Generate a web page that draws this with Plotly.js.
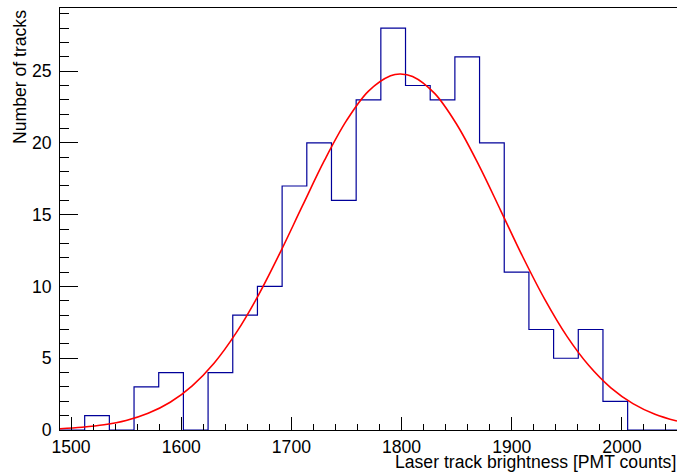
<!DOCTYPE html>
<html>
<head>
<meta charset="utf-8">
<script src="https://cdn.plot.ly/plotly-3.0.1.min.js"></script>
<style>
html,body{margin:0;padding:0;background:#fff;}
#chart{width:677px;height:474px;}
</style>
</head>
<body>
<div id="chart"></div>
<script>
// Histogram bin edges (lower edges + final upper edge)
const binEdges = [1490, 1512.4, 1534.8, 1557.2, 1579.6, 1602, 1624.4, 1646.8, 1669.2, 1691.6,
  1714, 1736.4, 1758.8, 1781.2, 1803.6, 1826, 1848.4, 1870.8, 1893.2, 1915.6,
  1938, 1960.4, 1982.8, 2005.2, 2027.6, 2050];
// Counts per bin
const binCounts = [0, 1, 0, 3, 4, 0, 4, 8, 10, 17, 20, 16, 23, 28, 24, 23, 26, 20, 11, 7, 5, 7, 2, 0, 0];

// Fit curve points
const fitX = [1490, 1510, 1530, 1550, 1570, 1590, 1610, 1630, 1650, 1670, 1690, 1710, 1730, 1750,
  1770, 1790, 1799, 1810, 1830, 1850, 1870, 1890, 1910, 1930, 1950, 1970, 1990, 2010, 2030, 2050];
const fitY = [0.09, 0.19, 0.36, 0.66, 1.16, 1.93, 3.08, 4.67, 6.78, 9.38, 12.39, 15.61, 18.78, 21.55,
  23.61, 24.68, 24.8, 24.63, 23.45, 21.30, 18.47, 15.29, 12.07, 9.10, 6.54, 4.49, 2.94, 1.84, 1.10, 0.62];

const xTitle = "Laser track brightness [PMT counts]";
const yTitle = "Number of tracks";

const stepY = binCounts.concat([binCounts[binCounts.length - 1]]);

const FONT = "Liberation Sans, Arial, Helvetica, sans-serif";
const FS = 17.6;

const traces = [
  {
    type: "scatter", mode: "lines",
    x: binEdges, y: stepY,
    line: {shape: "hv", color: "#000099", width: 1.2},
    hoverinfo: "skip", showlegend: false
  },
  {
    type: "scatter", mode: "lines",
    x: fitX, y: fitY,
    line: {shape: "spline", color: "#ff0000", width: 1.6, smoothing: 1},
    hoverinfo: "skip", showlegend: false
  }
];

const layout = {
  width: 677, height: 474,
  margin: {l: 60, r: 0, t: 8, b: 44, pad: 0},
  paper_bgcolor: "#ffffff", plot_bgcolor: "#ffffff",
  font: {family: FONT, size: FS, color: "#000000"},
  showlegend: false,
  xaxis: {
    range: [1490, 2050], tick0: 1500, dtick: 100,
    ticks: "inside", ticklen: 13, tickwidth: 1, tickcolor: "#000",
    minor: {dtick: 20, tick0: 1500, ticks: "inside", ticklen: 6, tickwidth: 1, tickcolor: "#000", showgrid: false},
    showline: true, linecolor: "#000", linewidth: 1, mirror: true,
    showgrid: false, zeroline: false,
    tickfont: {family: FONT, size: FS, color: "#000"},
    ticklabelstandoff: 1
  },
  yaxis: {
    range: [0, 29.4], tick0: 0, dtick: 5,
    ticks: "inside", ticklen: 18, tickwidth: 1, tickcolor: "#000",
    minor: {dtick: 1, tick0: 0, ticks: "inside", ticklen: 9, tickwidth: 1, tickcolor: "#000", showgrid: false},
    showline: true, linecolor: "#000", linewidth: 1, mirror: false,
    showgrid: false, zeroline: false,
    tickfont: {family: FONT, size: FS, color: "#000"},
    ticklabelstandoff: 4
  },
  annotations: [
    {
      text: xTitle, xref: "paper", yref: "paper", x: 1, y: 0,
      xanchor: "right", yanchor: "middle", yshift: -32, xshift: 1, showarrow: false,
      font: {family: FONT, size: FS, color: "#000"}
    },
    {
      text: yTitle, xref: "paper", yref: "paper", x: 0, y: 1,
      xanchor: "center", yanchor: "top", xshift: -40, yshift: 0, textangle: -90, showarrow: false,
      font: {family: FONT, size: FS, color: "#000"}
    }
  ]
};

Plotly.newPlot("chart", traces, layout, {staticPlot: true, displayModeBar: false});
</script>
</body>
</html>
